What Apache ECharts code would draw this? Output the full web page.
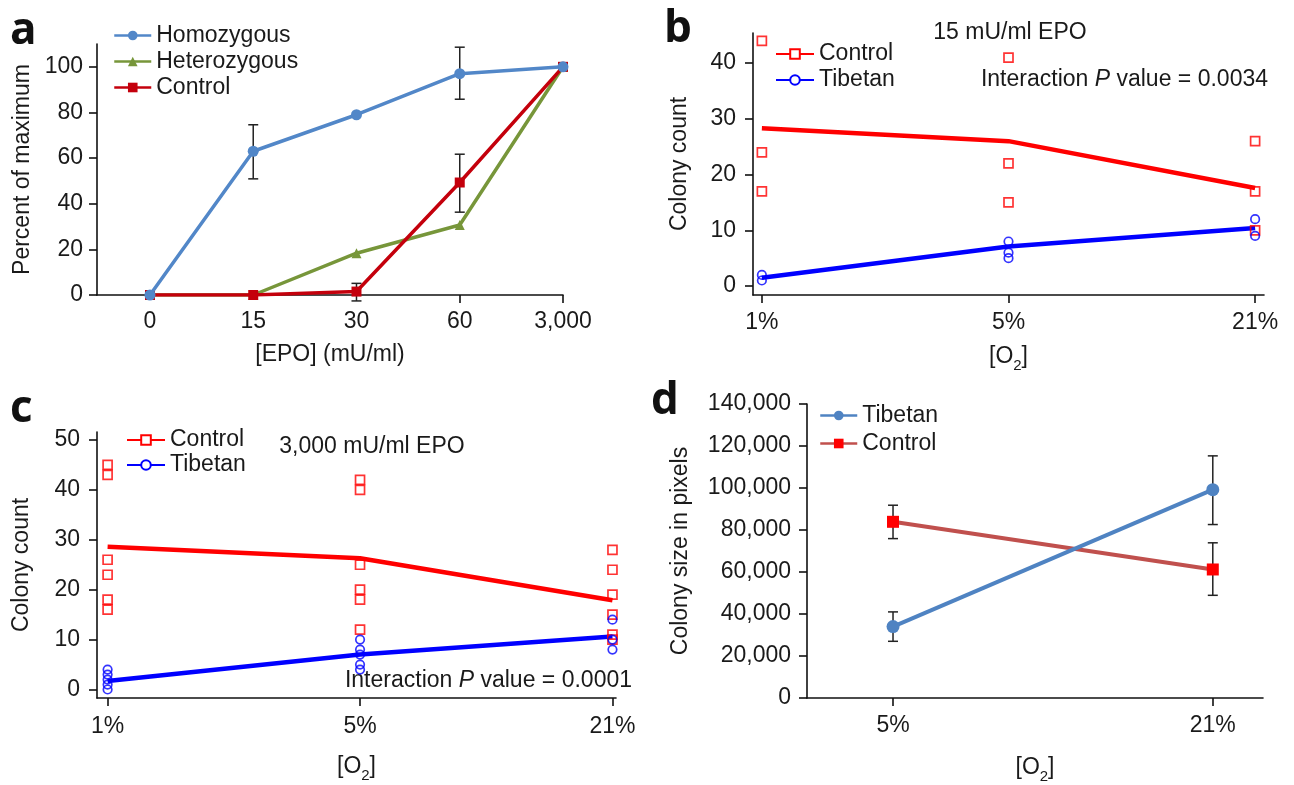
<!DOCTYPE html>
<html><head><meta charset="utf-8">
<script src="https://cdn.jsdelivr.net/npm/echarts@6/dist/echarts.min.js"></script>
<style>body{margin:0;background:#fff}.c{position:absolute;left:0;top:0;width:1294px;height:785px}</style>
</head><body>
<div id="pa" class="c"></div><div id="pb" class="c"></div><div id="pc" class="c"></div><div id="pd" class="c"></div>
<script>
// ---------- DATA ----------
// Panel a
const epoLabels = ['0', '15', '30', '60', '3,000'];
const homozygous = [0, 63, 79, 97, 100];
const heterozygous = [0, 0, 18.3, 30.7, 100];
const controlA = [0, 0, 1.5, 49.3, 100];
const homozygousErr = [[1, 50.9, 74.6], [3, 85.8, 108.6]];
const controlAErr = [[2, -2.6, 5.1], [3, 36.3, 61.7]];
// Panel b (15 mU/ml EPO)
const o2Labels = ['1%', '5%', '21%'];
const controlBPoints = [[44, 24, 17], [41, 22, 15], [26, 17, 10]];
const tibetanBPoints = [[2, 1], [8, 6, 5], [12, 9]];
const controlBMean = [28.3, 26, 17.6];
const tibetanBMean = [1.5, 7.1, 10.4];
// Panel c (3,000 mU/ml EPO)
const controlCPoints = [[45, 43, 26, 23, 18, 16], [42, 40, 25, 20, 18, 12], [28, 24, 19, 15, 11, 10]];
const tibetanCPoints = [[4, 3, 2, 1, 0], [10, 8, 7, 5, 4], [14, 10, 8]];
const controlCMean = [28.6, 26.3, 17.9];
const tibetanCMean = [1.7, 7.0, 10.6];
// Panel d
const o2LabelsD = ['5%', '21%'];
const tibetanD = [34000, 99200];
const controlD = [83900, 61200];
const tibetanDErr = [[0, 27000, 41000], [1, 82600, 115300]];
const controlDErr = [[0, 75900, 91800], [1, 48900, 73900]];

// ---------- STYLE HELPERS ----------
const FONT = 'Liberation Sans';
const FS = 23;
const TXT = '#1a1a1a';
function xAxisCfg(o) {
  return Object.assign({
    type: 'value', nameLocation: 'middle',
    axisLine: { show: true, onZero: false, lineStyle: { color: '#111', width: 1.6 } },
    splitLine: { show: false },
    nameTextStyle: { color: TXT, fontSize: FS, fontFamily: FONT }
  }, o);
}
function yAxisCfg(o) {
  return Object.assign({
    type: 'value', nameLocation: 'middle', nameRotate: 90,
    axisLine: { show: true, onZero: false, lineStyle: { color: '#111', width: 1.6 } },
    splitLine: { show: false },
    nameTextStyle: { color: TXT, fontSize: FS, fontFamily: FONT }
  }, o);
}
function idxLabels(arr, margin) {
  return { color: TXT, fontSize: FS, fontFamily: FONT, margin: margin,
    customValues: arr.map((_, i) => i), formatter: v => arr[Math.round(v)] };
}
function valLabels(vals, margin, fmt) {
  const o = { color: TXT, fontSize: FS, fontFamily: FONT, margin: margin, customValues: vals };
  if (fmt) o.formatter = fmt;
  return o;
}
function ticks(vals) {
  return { show: true, length: 8, customValues: vals, lineStyle: { color: '#111', width: 1.6 } };
}
function o2Name() {
  return { color: TXT, fontSize: FS, fontFamily: FONT,
    rich: { n: { fontSize: FS, fontFamily: FONT, color: TXT, lineHeight: 32, verticalAlign: 'middle' },
            s: { fontSize: 15, fontFamily: FONT, color: TXT, lineHeight: 32, verticalAlign: 'bottom' } } };
}
function errSeries(data, color) {
  return {
    type: 'custom', data: data, z: 1, silent: true, clip: false,
    renderItem: function (params, api) {
      const x = api.value(0);
      const lo = api.coord([x, api.value(1)]);
      const hi = api.coord([x, api.value(2)]);
      const w = 5;
      const st = { stroke: color, lineWidth: 1.5 };
      return { type: 'group', children: [
        { type: 'line', shape: { x1: lo[0], y1: lo[1], x2: hi[0], y2: hi[1] }, style: st },
        { type: 'line', shape: { x1: lo[0] - w, y1: lo[1], x2: lo[0] + w, y2: lo[1] }, style: st },
        { type: 'line', shape: { x1: hi[0] - w, y1: hi[1], x2: hi[0] + w, y2: hi[1] }, style: st }
      ] };
    }
  };
}
function toXY(vals) { return vals.map((v, i) => [i, v]); }
function pointsXY(groups) {
  const out = [];
  groups.forEach((g, i) => g.forEach(v => out.push([i, v])));
  return out;
}
function letter(t, x, y) {
  return { type: 'text', x: x, y: y, style: { text: t, fontSize: 44, fontWeight: 'bold', fontFamily: 'Open Sans', fill: '#111', textAlign: 'left', textVerticalAlign: 'top' } };
}
function ptext(text, x, y, align) {
  return { type: 'text', x: x, y: y, style: { text: text, fontSize: FS, fontFamily: FONT, fill: TXT,
    textAlign: align, textVerticalAlign: 'middle',
    rich: { i: { fontSize: FS, fontFamily: FONT, fontStyle: 'italic', fill: TXT } } } };
}
function legendCfg(left, top, gap, names, iw, ih, lw) {
  return { orient: 'vertical', left: left, top: top, padding: 0, itemWidth: iw, itemHeight: ih, itemGap: gap,
    textStyle: { color: TXT, fontSize: FS, fontFamily: FONT }, lineStyle: { width: lw }, data: names };
}

// ---------- PANEL A ----------
const chA = echarts.init(document.getElementById('pa'));
chA.setOption({
  animation: false,
  grid: { left: 97, top: 44, right: 1294 - 563, bottom: 785 - 295 },
  xAxis: xAxisCfg({ min: -0.513, max: 4, name: '[EPO] (mU/ml)', nameGap: 48,
    axisLabel: idxLabels(epoLabels, 15), axisTick: ticks([3, 4]) }),
  yAxis: yAxisCfg({ min: 0, max: 110, name: 'Percent of maximum', nameGap: 63,
    axisLabel: valLabels([0, 20, 40, 60, 80, 100], 14), axisTick: ticks([0, 20, 40, 60, 80, 100]) }),
  legend: legendCfg(113, 24, 3, ['Homozygous', 'Heterozygous', 'Control'], 37, 12, 2.5),
  graphic: [letter('a', 10, 9)],
  series: [
    errSeries(homozygousErr, '#222'),
    errSeries(controlAErr, '#222'),
    { name: 'Heterozygous', type: 'line', data: toXY(heterozygous), symbol: 'triangle', symbolSize: 10,
      lineStyle: { color: '#77963A', width: 3.5 }, itemStyle: { color: '#77963A' }, z: 2 },
    { name: 'Control', type: 'line', data: toXY(controlA), symbol: 'rect', symbolSize: 10,
      lineStyle: { color: '#C4000C', width: 3.5 }, itemStyle: { color: '#C4000C' }, z: 3 },
    { name: 'Homozygous', type: 'line', data: toXY(homozygous), symbol: 'circle', symbolSize: 11,
      lineStyle: { color: '#5287C8', width: 3.5 }, itemStyle: { color: '#5287C8' }, z: 4 }
  ]
});

// ---------- PANELS B & C ----------
function scatterPanel(el, gridCfg, xr, yr, yTicks, ctrlPts, tibPts, ctrlMean, tibMean, legend, texts, xNameGap, xLabMargin, yNameGap) {
  const ch = echarts.init(document.getElementById(el));
  ch.setOption({
    animation: false,
    grid: gridCfg,
    xAxis: xAxisCfg({ min: xr[0], max: xr[1], name: '{n|[O}{s|2}{n|]}', nameGap: xNameGap, nameTextStyle: o2Name(),
      axisLabel: idxLabels(o2Labels, xLabMargin), axisTick: ticks([0, 1, 2]) }),
    yAxis: yAxisCfg({ min: yr[0], max: yr[1], name: 'Colony count', nameGap: yNameGap,
      axisLabel: valLabels(yTicks, 17), axisTick: ticks(yTicks) }),
    legend: legend,
    graphic: texts,
    series: [
      { name: 'Control', type: 'line', data: toXY(ctrlMean), symbol: 'emptyRect', showSymbol: false,
        lineStyle: { color: '#FF0000', width: 4.5 }, itemStyle: { color: '#FF0000' }, z: 2 },
      { name: 'Tibetan', type: 'line', data: toXY(tibMean), symbol: 'emptyCircle', showSymbol: false,
        lineStyle: { color: '#0000FF', width: 4.5 }, itemStyle: { color: '#0000FF' }, z: 2 },
      { name: 'Control', type: 'scatter', data: pointsXY(ctrlPts), symbol: 'rect', symbolSize: 9,
        itemStyle: { color: 'rgba(255,255,255,0)', borderColor: '#FF0000', borderWidth: 1.7 }, z: 3 },
      { name: 'Tibetan', type: 'scatter', data: pointsXY(tibPts), symbol: 'circle', symbolSize: 8.5,
        itemStyle: { color: 'rgba(255,255,255,0)', borderColor: '#0000FF', borderWidth: 1.7 }, z: 4 }
    ]
  });
}
scatterPanel('pb', { left: 753, top: 33, right: 1294 - 1264, bottom: 785 - 295 },
  [-0.036, 2.036], [-1.6, 45.4], [0, 10, 20, 30, 40],
  controlBPoints, tibetanBPoints, controlBMean, tibetanBMean,
  legendCfg(775, 42.5, 3, ['Control', 'Tibetan'], 38, 12, 2),
  [letter('b', 664, 7), ptext('15 mU/ml EPO', 1010, 33, 'center'),
   ptext('Interaction {i|P} value = 0.0034', 1268, 80, 'right')], 46, 16, 61.5);
scatterPanel('pc', { left: 97, top: 432, right: 1294 - 616, bottom: 785 - 698 },
  [-0.042, 2.014], [-1.7, 51.6], [0, 10, 20, 30, 40, 50],
  controlCPoints, tibetanCPoints, controlCMean, tibetanCMean,
  legendCfg(126, 428.5, 2, ['Control', 'Tibetan'], 38, 12, 2),
  [letter('c', 10, 387), ptext('3,000 mU/ml EPO', 372, 447, 'center'),
   ptext('Interaction {i|P} value = 0.0001', 632, 681, 'right')], 53, 17.5, 63.5);

// ---------- PANEL D ----------
const chD = echarts.init(document.getElementById('pd'));
const dTicks = [0, 20000, 40000, 60000, 80000, 100000, 120000, 140000];
chD.setOption({
  animation: false,
  grid: { left: 807, top: 404, right: 1294 - 1263, bottom: 785 - 699 },
  xAxis: xAxisCfg({ min: -0.269, max: 1.157, name: '{n|[O}{s|2}{n|]}', nameGap: 54, nameTextStyle: o2Name(),
    axisLabel: idxLabels(o2LabelsD, 16.5), axisTick: ticks([0, 1]) }),
  yAxis: yAxisCfg({ min: 0, max: 140000, name: 'Colony size in pixels', nameGap: 114.5,
    axisLabel: valLabels(dTicks, 16, v => v.toLocaleString('en-US')), axisTick: ticks(dTicks) }),
  legend: legendCfg(819, 404, 5, ['Tibetan', 'Control'], 37, 12, 2.5),
  graphic: [letter('d', 651, 379)],
  series: [
    errSeries(tibetanDErr, '#222'),
    errSeries(controlDErr, '#222'),
    { name: 'Control', type: 'line', data: toXY(controlD), symbol: 'rect', symbolSize: 12,
      lineStyle: { color: '#C0504D', width: 4 }, itemStyle: { color: '#FF0000' }, z: 2 },
    { name: 'Tibetan', type: 'line', data: toXY(tibetanD), symbol: 'circle', symbolSize: 13,
      lineStyle: { color: '#4F83C2', width: 4 }, itemStyle: { color: '#4F83C2' }, z: 3 }
  ]
});
</script>
</body></html>
